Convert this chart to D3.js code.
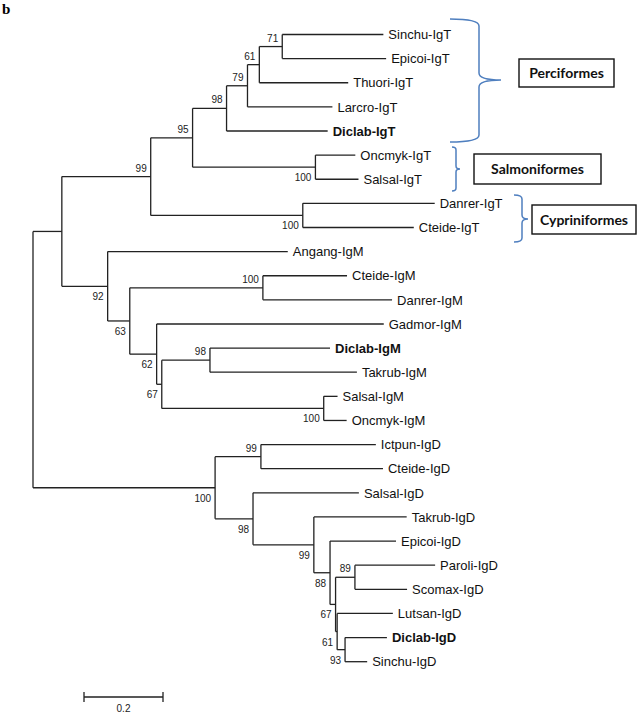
<!DOCTYPE html>
<html>
<head>
<meta charset="utf-8">
<script src="https://cdn.jsdelivr.net/npm/d3@7"></script>
<style>
  body { margin: 0; background: #fff; }
  svg { display: block; }
  .branch { fill: none; stroke: #222; stroke-width: 1.3; }
  .leaf { font-family: "Liberation Sans", Arial, sans-serif; font-size: 13px; fill: #111; }
  .boot { font-family: "Liberation Sans", Arial, sans-serif; font-size: 10px; fill: #222; }
  .brace { fill: none; stroke: #4f7fbf; stroke-width: 1.5; }
  .box { fill: #fff; stroke: #111; stroke-width: 1.4; }
  .boxlabel { font-family: Lato, "Open Sans", sans-serif; font-weight: bold; font-size: 14px; fill: #111; }
</style>
</head>
<body>
<div id="chart"></div>
<script>
var width = 638, height = 716;

// tree: node id, parent id, branch length (subst./site), bootstrap
var nodeIds = ["root","A","T99","T95","T98","T79","T61","T71","Sinchu-IgT","Epicoi-IgT","Thuori-IgT","Larcro-IgT","Diclab-IgT",
  "TS100","Oncmyk-IgT","Salsal-IgT","TC100","Danrer-IgT","Cteide-IgT",
  "M92","Angang-IgM","M63","MC100","Cteide-IgM","Danrer-IgM","M62","Gadmor-IgM","M67","M98","Diclab-IgM","Takrub-IgM",
  "MS100","Salsal-IgM","Oncmyk-IgM",
  "D100","D99a","Ictpun-IgD","Cteide-IgD","D98","Salsal-IgD","D99b","Takrub-IgD","D88","Epicoi-IgD","D67","D89","Paroli-IgD","Scomax-IgD",
  "D61","Lutsan-IgD","D93","Diclab-IgD","Sinchu-IgD"];
var parents = ["","root","A","T99","T95","T98","T79","T61","T71","T71","T61","T79","T98",
  "T95","TS100","TS100","T99","TC100","TC100",
  "A","M92","M92","M63","MC100","MC100","M63","M62","M62","M67","M98","M98",
  "M67","MS100","MS100",
  "root","D100","D99a","D99a","D100","D98","D98","D99b","D99b","D88","D88","D67","D89","D89",
  "D67","D61","D61","D93","D93"];
var branchLengths = [0,0.073,0.225,0.106,0.086,0.053,0.030,0.058,0.256,0.263,0.225,0.215,0.256,
  0.311,0.101,0.109,0.385,0.334,0.281,
  0.116,0.456,0.056,0.337,0.213,0.327,0.068,0.575,0.013,0.122,0.304,0.372,
  0.410,0.035,0.058,
  0.461,0.116,0.291,0.309,0.096,0.268,0.154,0.235,0.041,0.167,0.014,0.049,0.203,0.132,
  0.004,0.141,0.020,0.106,0.056];
var bootstraps = [null,null,99,95,98,79,61,71,null,null,null,null,null,
  100,null,null,100,null,null,
  92,null,63,100,null,null,62,null,67,98,null,null,
  100,null,null,
  100,99,null,null,98,null,99,null,88,null,67,89,null,null,
  61,null,93,null,null];
var boldLeaves = ["Diclab-IgT","Diclab-IgM","Diclab-IgD"];

var clades = ["Perciformes","Salmoniformes","Cypriniformes"];
var scaleBarValue = 0.2;

var svg = d3.select("#chart").append("svg")
    .attr("width", width)
    .attr("height", height);

svg.append("rect").attr("width", width).attr("height", height).attr("fill", "#fff");

var table = nodeIds.map(function(id, i) {
  return {id: id, parent: parents[i], len: branchLengths[i], boot: bootstraps[i]};
});

var root = d3.stratify()
    .id(function(d) { return d.id; })
    .parentId(function(d) { return d.parent || null; })(table);

// cumulative distance from root
root.eachBefore(function(n) {
  n.dist = n.parent ? n.parent.dist + n.data.len : 0;
});

var leaves = root.leaves();
var x = d3.scaleLinear().domain([0, 1]).range([33, 428]);
var y = d3.scalePoint()
    .domain(leaves.map(function(d) { return d.id; }))
    .range([34.5, 661.7]);

root.eachAfter(function(n) {
  if (n.children) {
    n.py = (n.children[0].py + n.children[n.children.length - 1].py) / 2;
  } else {
    n.py = y(n.id);
  }
  n.px = x(n.dist);
});

var g = svg.append("g");

// horizontal branches
g.selectAll(".hbranch")
  .data(root.descendants().filter(function(d) { return d.parent; }))
  .enter().append("path")
    .attr("class", "branch")
    .attr("d", function(d) { return "M" + d.parent.px + "," + d.py + "H" + d.px; });

// vertical connectors
g.selectAll(".vbranch")
  .data(root.descendants().filter(function(d) { return d.children; }))
  .enter().append("path")
    .attr("class", "branch")
    .attr("d", function(d) {
      var c = d.children;
      return "M" + d.px + "," + c[0].py + "V" + c[c.length - 1].py;
    });

// leaf names
g.selectAll(".leaf")
  .data(leaves)
  .enter().append("text")
    .attr("class", "leaf")
    .attr("x", function(d) { return d.px + 5; })
    .attr("y", function(d) { return d.py; })
    .attr("dy", "0.36em")
    .style("font-weight", function(d) { return boldLeaves.indexOf(d.id) >= 0 ? "bold" : "normal"; })
    .text(function(d) { return d.id; });

// bootstrap values: above the branch for an upper child, below for a lower one
g.selectAll(".boot")
  .data(root.descendants().filter(function(d) { return d.data.boot != null; }))
  .enter().append("text")
    .attr("class", "boot")
    .attr("text-anchor", "end")
    .attr("x", function(d) { return d.px - 4; })
    .attr("y", function(d) {
      var upper = d.parent && d.parent.children[0] === d;
      return upper ? d.py - 5 : d.py + 14;
    })
    .text(function(d) { return d.data.boot; });

// braces + boxed clade names
var braceLayout = [
  {x0: 450, x1: 479, xt: 501, y0: 19, ym: 80, y1: 142, r: 7, box: [519, 59, 95, 28]},
  {x0: 452, x1: 456, xt: 460, y0: 147, ym: 169, y1: 191, r: 3, box: [474, 154, 127, 30]},
  {x0: 514, x1: 522, xt: 528, y0: 195, ym: 219, y1: 242, r: 4, box: [532, 205, 104, 29]}
];

function bracePath(b) {
  return "M" + b.x0 + "," + b.y0 +
    "Q" + b.x1 + "," + b.y0 + " " + b.x1 + "," + (b.y0 + b.r) +
    "L" + b.x1 + "," + (b.ym - b.r) +
    "Q" + b.x1 + "," + b.ym + " " + b.xt + "," + b.ym +
    "Q" + b.x1 + "," + b.ym + " " + b.x1 + "," + (b.ym + b.r) +
    "L" + b.x1 + "," + (b.y1 - b.r) +
    "Q" + b.x1 + "," + b.y1 + " " + b.x0 + "," + b.y1;
}

var ann = svg.selectAll(".clade")
  .data(clades)
  .enter().append("g")
    .attr("class", "clade");

ann.append("path")
  .attr("class", "brace")
  .attr("d", function(d, i) { return bracePath(braceLayout[i]); });

ann.append("rect")
  .attr("class", "box")
  .attr("x", function(d, i) { return braceLayout[i].box[0]; })
  .attr("y", function(d, i) { return braceLayout[i].box[1]; })
  .attr("width", function(d, i) { return braceLayout[i].box[2]; })
  .attr("height", function(d, i) { return braceLayout[i].box[3]; });

ann.append("text")
  .attr("class", "boxlabel")
  .attr("text-anchor", "middle")
  .attr("x", function(d, i) { var b = braceLayout[i].box; return b[0] + b[2] / 2; })
  .attr("y", function(d, i) { var b = braceLayout[i].box; return b[1] + b[3] / 2; })
  .attr("dy", "0.36em")
  .text(function(d) { return d; });

// scale bar
var sbX = 84, sbY = 697;
var sbW = x(scaleBarValue) - x(0);
var sb = svg.append("g").attr("transform", "translate(" + sbX + "," + sbY + ")");
sb.append("path")
  .attr("class", "branch")
  .attr("d", "M0,0H" + sbW + "M0,-5V5M" + sbW + ",-5V5");
sb.append("text")
  .attr("class", "boot")
  .attr("text-anchor", "middle")
  .attr("x", sbW / 2)
  .attr("y", 15)
  .text(scaleBarValue);

// panel letter
svg.append("text")
  .attr("x", 2)
  .attr("y", 14)
  .style("font-family", "'Liberation Serif', 'DejaVu Serif', serif")
  .style("font-weight", "bold")
  .style("font-size", "15px")
  .text("b");
</script>
</body>
</html>
